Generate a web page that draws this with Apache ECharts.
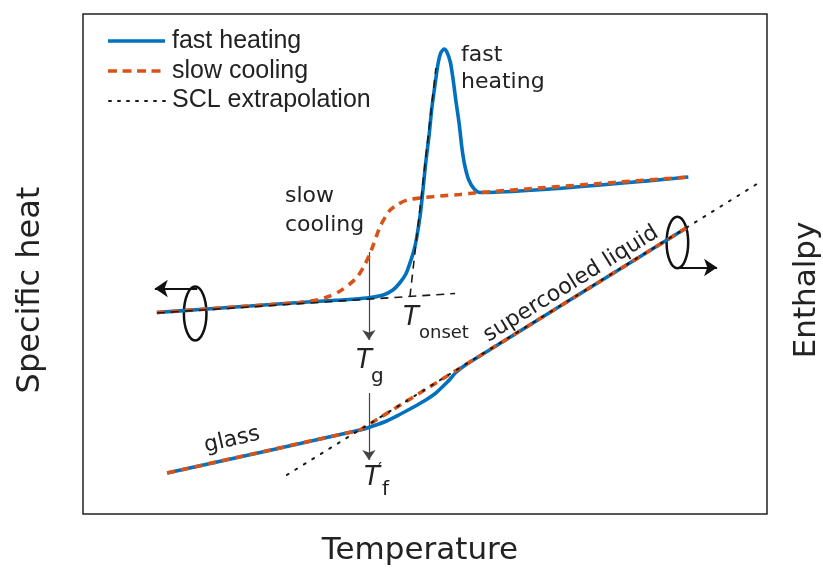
<!DOCTYPE html>
<html>
<head>
<meta charset="utf-8">
<script src="https://cdn.jsdelivr.net/npm/echarts@6/dist/echarts.min.js"></script>
<style>
  html, body { margin: 0; padding: 0; background: #fff; }
  #chart { width: 823px; height: 568px; }
</style>
</head>
<body>
<div id="chart"></div>
<script>
// Schematic: specific heat (upper curves) and enthalpy (lower curves) vs temperature.
// Both quantities share one arbitrary-unit scale (0-100).

// Specific heat, fast heating (overshoot peak above the glass transition)
const cpFastT = [10.8, 17.1, 24.4, 31.7, 37.6, 41.5, 43.9, 45.3, 46.3, 47.2, 47.8, 48.4, 48.8, 49.3, 49.7, 50.1, 50.6, 51.0, 51.5, 51.9, 52.3, 52.8, 53.2, 53.7, 54.1, 54.5, 55.0, 55.4, 55.8, 56.4, 57.2, 58.0, 88.5];
const cpFastV = [40.3, 40.9, 41.6, 42.3, 42.8, 43.2, 43.8, 44.8, 46.2, 48.0, 50.2, 52.8, 55.4, 59.8, 64.8, 70.2, 75.8, 81.2, 86.2, 90.0, 92.2, 93.0, 92.4, 90.4, 87.0, 82.8, 78.0, 73.2, 69.8, 66.8, 65.0, 64.3, 67.4];

// Specific heat, slow cooling (smooth step)
const cpSlowT = [10.8, 17.1, 24.4, 31.7, 34.2, 36.1, 37.6, 39.0, 40.1, 41.1, 42.0, 42.7, 43.4, 44.2, 44.9, 46.1, 47.4, 49.3, 52.2, 55.1, 58.0, 88.5];
const cpSlowV = [40.3, 40.9, 41.6, 42.3, 42.8, 43.6, 44.6, 46.0, 47.4, 49.6, 52.2, 54.8, 57.4, 59.4, 60.8, 62.0, 62.8, 63.2, 63.6, 63.9, 64.3, 67.4];

// Onset construction: glass baseline extension and tangent to the rising edge
const onsetBaseT = [10.8, 54.4];
const onsetBaseV = [40.2, 44.1];
const onsetTangentT = [47.8, 51.6];
const onsetTangentV = [43.5, 89.2];

// Enthalpy, fast heating (lags below the liquid line, then catches up)
const hFastT = [12.3, 40.5, 42.4, 44.4, 46.3, 48.2, 50.0, 51.5, 52.6, 53.7, 54.5, 55.6, 56.6, 88.2];
const hFastV = [8.2, 16.8, 17.6, 18.6, 19.9, 21.3, 22.7, 24.1, 25.5, 27.0, 28.3, 29.5, 30.4, 57.2];

// Enthalpy, slow cooling (glass line meets the supercooled liquid line at the kink)
const hSlowT = [12.3, 40.5, 88.2];
const hSlowV = [8.2, 16.8, 57.2];

// Supercooled liquid extrapolation
const sclT = [29.8, 99.0];
const sclV = [7.8, 66.4];

// Transition markers: [x, yFrom, yTo]
const tgArrow = [41.8, 52.4, 34.8];
const tfArrow = [41.8, 24.2, 10.8];

// Axis-assignment markers: ellipse [cx, cy, rx, ry] and arrow [x1, y1, x2, y2]
const leftEllipse = [16.4, 40.1, 1.65, 5.4];
const rightEllipse = [86.9, 54.3, 1.58, 5.16];
const leftAxisArrow = [16.7, 45.1, 10.5, 45.1];
const rightAxisArrow = [87.1, 49.3, 92.7, 49.3];

const BLUE = '#0072BD';
const ORANGE = '#D95319';
const INK = '#1a1a1a';
const SANS = '"DejaVu Sans", Verdana, sans-serif';
const LEGEND_FONT = '"Liberation Sans", Arial, sans-serif';

const zip = (xs, ys) => xs.map((x, i) => [x, ys[i]]);

const solidBlue = { color: BLUE, width: 3.6, type: 'solid', cap: 'butt' };
const dashedOrange = { color: ORANGE, width: 3.6, type: [8, 6], cap: 'butt' };
const dashedBlack = { color: INK, width: 1.6, type: [8, 6] };
const dotted = { color: INK, width: 2, type: [2, 8], cap: 'round' };

function curve(name, xs, ys, lineStyle, smooth) {
  return {
    name: name,
    type: 'line',
    data: zip(xs, ys),
    showSymbol: false,
    symbol: 'none',
    smooth: smooth,
    lineStyle: lineStyle,
    silent: true,
    animation: false
  };
}

const chart = echarts.init(document.getElementById('chart'), null, { renderer: 'canvas' });

const option = {
  animation: false,
  backgroundColor: '#fff',
  grid: {
    left: 83, top: 14, right: 56, bottom: 54,
    show: true, borderColor: '#222', borderWidth: 1.5, backgroundColor: 'transparent'
  },
  xAxis: {
    type: 'value', min: 0, max: 100,
    axisLine: { show: false }, axisTick: { show: false },
    axisLabel: { show: false }, splitLine: { show: false }
  },
  yAxis: {
    type: 'value', min: 0, max: 100,
    axisLine: { show: false }, axisTick: { show: false },
    axisLabel: { show: false }, splitLine: { show: false }
  },
  series: [
    curve('fast heating', cpFastT, cpFastV, solidBlue, 0.25),
    curve('fast heating', hFastT, hFastV, solidBlue, 0.25),
    curve('slow cooling', cpSlowT, cpSlowV, dashedOrange, 0.25),
    curve('slow cooling', hSlowT, hSlowV, dashedOrange, false),
    curve('onset baseline', onsetBaseT, onsetBaseV, dashedBlack, false),
    curve('onset tangent', onsetTangentT, onsetTangentV, dashedBlack, false),
    curve('SCL extrapolation', sclT, sclV, dotted, false),
    {
      name: 'transition arrows',
      type: 'lines',
      coordinateSystem: 'cartesian2d',
      silent: true,
      symbol: ['none', 'arrow'],
      symbolSize: 10,
      lineStyle: { color: '#444', width: 1.2, opacity: 1 },
      data: [
        { coords: [[tgArrow[0], tgArrow[1]], [tgArrow[0], tgArrow[2]]] },
        { coords: [[tfArrow[0], tfArrow[1]], [tfArrow[0], tfArrow[2]]] }
      ]
    },
    {
      name: 'axis arrows',
      type: 'lines',
      coordinateSystem: 'cartesian2d',
      silent: true,
      symbol: ['none', 'arrow'],
      symbolSize: 13,
      lineStyle: { color: '#111', width: 2.2, opacity: 1 },
      data: [
        { coords: [[leftAxisArrow[0], leftAxisArrow[1]], [leftAxisArrow[2], leftAxisArrow[3]]] },
        { coords: [[rightAxisArrow[0], rightAxisArrow[1]], [rightAxisArrow[2], rightAxisArrow[3]]] }
      ]
    },
    {
      name: 'axis ellipses',
      type: 'custom',
      silent: true,
      data: [leftEllipse, rightEllipse],
      renderItem: function (params, api) {
        const c = api.coord([api.value(0), api.value(1)]);
        const s = api.size([api.value(2), api.value(3)]);
        return {
          type: 'ellipse',
          shape: { cx: c[0], cy: c[1], rx: s[0], ry: s[1] },
          style: { fill: 'none', stroke: '#111', lineWidth: 2.5 }
        };
      }
    }
  ],
  graphic: {
    elements: [
      // legend
      { type: 'line', shape: { x1: 108, y1: 41, x2: 165, y2: 41 }, style: { stroke: BLUE, lineWidth: 3.6 } },
      { type: 'line', shape: { x1: 108, y1: 71, x2: 165, y2: 71 }, style: { stroke: ORANGE, lineWidth: 3.6, lineDash: [9, 5.5] } },
      { type: 'line', shape: { x1: 109, y1: 101, x2: 165, y2: 101 }, style: { stroke: INK, lineWidth: 2, lineDash: [2, 7], lineCap: 'round' } },
      { type: 'text', x: 172, y: 41, style: { text: 'fast heating', font: '25px ' + LEGEND_FONT, fill: '#222', align: 'left', verticalAlign: 'middle' } },
      { type: 'text', x: 172, y: 71, style: { text: 'slow cooling', font: '25px ' + LEGEND_FONT, fill: '#222', align: 'left', verticalAlign: 'middle' } },
      { type: 'text', x: 172, y: 100, style: { text: 'SCL extrapolation', font: '25px ' + LEGEND_FONT, fill: '#222', align: 'left', verticalAlign: 'middle' } },

      // curve annotations
      { type: 'text', x: 461, y: 55, style: { text: 'fast', font: '22px ' + SANS, fill: '#222', align: 'left', verticalAlign: 'middle' } },
      { type: 'text', x: 461, y: 82, style: { text: 'heating', font: '22px ' + SANS, fill: '#222', align: 'left', verticalAlign: 'middle' } },
      { type: 'text', x: 285, y: 196, style: { text: 'slow', font: '22px ' + SANS, fill: '#222', align: 'left', verticalAlign: 'middle' } },
      { type: 'text', x: 285, y: 225, style: { text: 'cooling', font: '22px ' + SANS, fill: '#222', align: 'left', verticalAlign: 'middle' } },
      { type: 'text', x: 232, y: 440, rotation: 13 * Math.PI / 180, style: { text: 'glass', font: '22px ' + SANS, fill: '#222', align: 'center', verticalAlign: 'middle' } },
      { type: 'text', x: 571, y: 284, rotation: 31.8 * Math.PI / 180, style: { text: 'supercooled liquid', font: '22px ' + SANS, fill: '#222', align: 'center', verticalAlign: 'middle' } },

      // characteristic temperatures
      { type: 'text', x: 364, y: 361, style: { text: 'T', font: 'italic 26px ' + SANS, fill: '#222', align: 'center', verticalAlign: 'middle' } },
      { type: 'text', x: 371, y: 377, style: { text: 'g', font: '20px ' + SANS, fill: '#222', align: 'left', verticalAlign: 'middle' } },
      { type: 'text', x: 411, y: 318, style: { text: 'T', font: 'italic 26px ' + SANS, fill: '#222', align: 'center', verticalAlign: 'middle' } },
      { type: 'text', x: 419, y: 333, style: { text: 'onset', font: '18px ' + SANS, fill: '#222', align: 'left', verticalAlign: 'middle' } },
      { type: 'text', x: 372, y: 478, style: { text: 'T', font: 'italic 26px ' + SANS, fill: '#222', align: 'center', verticalAlign: 'middle' } },
      { type: 'text', x: 378, y: 470, style: { text: '\u2032', font: '18px ' + SANS, fill: '#222', align: 'left', verticalAlign: 'middle' } },
      { type: 'text', x: 382, y: 490, style: { text: 'f', font: '20px ' + SANS, fill: '#222', align: 'left', verticalAlign: 'middle' } },

      // axis titles
      { type: 'text', x: 31, y: 290, rotation: Math.PI / 2, style: { text: 'Specific heat', font: '32px ' + SANS, fill: '#222', align: 'center', verticalAlign: 'middle' } },
      { type: 'text', x: 807, y: 290, rotation: Math.PI / 2, style: { text: 'Enthalpy', font: '31px ' + SANS, fill: '#222', align: 'center', verticalAlign: 'middle' } },
      { type: 'text', x: 420, y: 551, style: { text: 'Temperature', font: '31px ' + SANS, fill: '#222', align: 'center', verticalAlign: 'middle' } }
    ]
  }
};

chart.setOption(option);
</script>
</body>
</html>
